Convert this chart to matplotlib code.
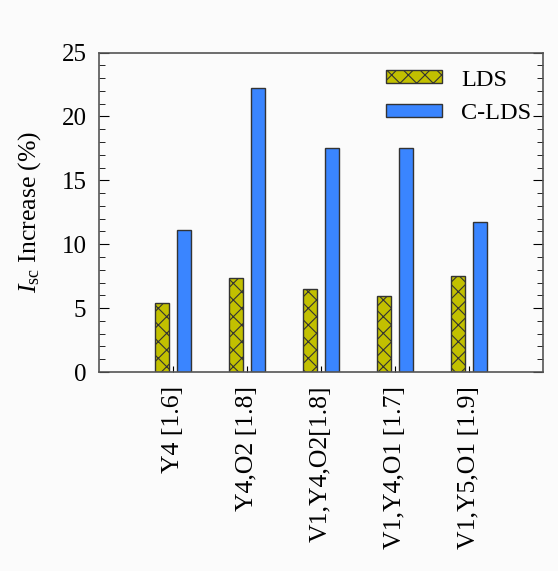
import matplotlib.pyplot as plt
from matplotlib.ticker import MultipleLocator
import numpy as np

plt.rcParams['font.family'] = ['Liberation Serif', 'DejaVu Serif']
plt.rcParams['mathtext.fontset'] = 'custom'
plt.rcParams['mathtext.rm'] = 'Liberation Serif'
plt.rcParams['mathtext.it'] = 'Liberation Serif:italic'
plt.rcParams['hatch.linewidth'] = 0.8

# data
categories = ['Y4 [1.6]', 'Y4,O2 [1.8]', 'V1,Y4,O2[1.8]', 'V1,Y4,O1 [1.7]', 'V1,Y5,O1 [1.9]']
lds = [5.4, 7.35, 6.5, 5.95, 7.55]
clds = [11.1, 22.2, 17.5, 17.5, 11.7]

fig = plt.figure(figsize=(5.58, 5.71), dpi=100, facecolor='#fbfbfb')
ax = fig.add_axes([0.1774, 0.3485, 0.7957, 0.5595])
ax.set_facecolor('#fbfbfb')

x = np.arange(1, len(categories) + 1)
w = 0.19
ax.bar(x - 0.15, lds, w, color='#c2c000', edgecolor='#333333', hatch='xx',
       linewidth=1.0, label='LDS')
ax.bar(x + 0.15, clds, w, color='#3a85ff', edgecolor='#333333',
       linewidth=1.0, label='C-LDS')

ax.set_xlim(0, 6)
ax.set_ylim(0, 25)
ax.set_xticks(x)
ax.set_xticklabels(categories, rotation=90, fontsize=18.5)
ax.yaxis.set_major_locator(MultipleLocator(5))
ax.yaxis.set_minor_locator(MultipleLocator(1))
ax.tick_params(axis='y', which='major', direction='in', length=7, labelsize=18,
               right=True, pad=9)
ax.tick_params(axis='y', which='minor', direction='in', length=4, right=True)
ax.tick_params(axis='x', direction='in', length=4, pad=10)
for s in ax.spines.values():
    s.set_color('#555555')
    s.set_linewidth(1.2)

ax.set_ylabel(r'$I_{\rm sc}$ Increase (%)', fontsize=18.5, labelpad=13)

ax.legend(loc='upper right', frameon=False, fontsize=17.5, handlelength=2.3,
          handleheight=0.45, handletextpad=0.8, labelspacing=0.5,
          borderaxespad=0.3, bbox_to_anchor=(1.012, 1.0))

fig.savefig('out.png', dpi=100, facecolor=fig.get_facecolor())
